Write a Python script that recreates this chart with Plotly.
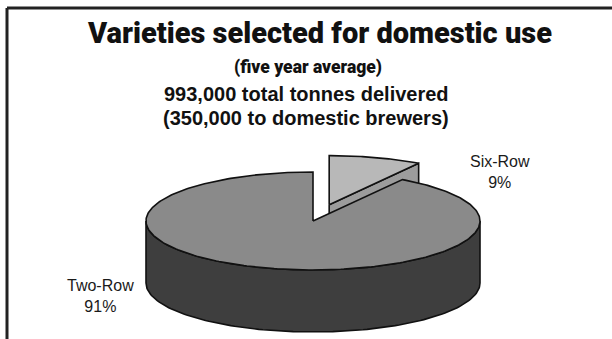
import numpy as np
import plotly.graph_objects as go

# ---- data ----
categories = ["Two-Row", "Six-Row"]
values = [91, 9]
title_lines = ["Varieties selected for domestic use", "(five year average)",
               "993,000 total tonnes delivered", "(350,000 to domestic brewers)"]

# ---- geometry (pixel-like axis units) ----
W, H = 612, 339
cx, cy, rx, ry, depth = 313, 221, 167, 49, 62
pull = 58

total = sum(values)
six_frac = values[1] / total
six_a0, six_a1 = 0.0, 2 * np.pi * six_frac   # clockwise from 12 o'clock
two_a0, two_a1 = six_a1, 2 * np.pi


def pt(t, dx=0.0, dy=0.0, dz=0.0):
    return cx + dx + rx * np.sin(t), cy + dy - ry * np.cos(t) + dz


def arc(a0, a1, n=120, dx=0.0, dy=0.0, dz=0.0):
    t = np.linspace(a0, a1, n)
    return cx + dx + rx * np.sin(t), cy + dy - ry * np.cos(t) + dz


fig = go.Figure()
line = dict(color="#111111", width=1.6)

# pulled Six-Row slice
mid = (six_a0 + six_a1) / 2
pdx = pull * np.sin(mid)
pdy = -pull * np.cos(mid) * ry / rx
ex, ey = pt(six_a1, pdx, pdy)
face_x = [cx + pdx, ex, ex, cx + pdx, cx + pdx]
face_y = [cy + pdy, ey, ey + depth, cy + pdy + depth, cy + pdy]
fig.add_trace(go.Scatter(x=face_x, y=face_y, fill="toself", fillcolor="#9c9c9c",
                         mode="lines", line=line, hoverinfo="skip"))
ax_, ay_ = arc(six_a0, six_a1, 60, pdx, pdy)
fig.add_trace(go.Scatter(x=np.r_[cx + pdx, ax_, cx + pdx], y=np.r_[cy + pdy, ay_, cy + pdy],
                         fill="toself", fillcolor="#b8b8b8", mode="lines", line=line,
                         hoverinfo="skip"))

# Two-Row front side
s0, s1 = max(two_a0, np.pi / 2), min(two_a1, 3 * np.pi / 2)
tx, ty = arc(s0, s1)
bx, by = arc(s1, s0, dz=depth)
fig.add_trace(go.Scatter(x=np.r_[tx, bx, tx[0]], y=np.r_[ty, by, ty[0]], fill="toself",
                         fillcolor="#3e3e3e", mode="lines", line=line, hoverinfo="skip"))
# Two-Row top
tx, ty = arc(two_a0, two_a1, 300)
fig.add_trace(go.Scatter(x=np.r_[cx, tx, cx], y=np.r_[cy, ty, cy], fill="toself",
                         fillcolor="#8a8a8a", mode="lines", line=line, hoverinfo="skip"))

# labels
lab_font = dict(family="Liberation Sans, Arial, sans-serif", size=16, color="#1a1a1a")
fig.add_annotation(x=100, y=296, text=f"{categories[0]}<br>{values[0]}%", showarrow=False,
                   font=lab_font, align="center")
fig.add_annotation(x=500, y=172, text=f"{categories[1]}<br>{values[1]}%", showarrow=False,
                   font=lab_font, align="center")

# titles
heavy = "Roboto, Liberation Sans, sans-serif"
fig.add_annotation(x=319, y=33, text=title_lines[0], showarrow=False,
                   font=dict(family=heavy, size=29, weight=900, color="#111111"))
fig.add_annotation(x=308, y=67, text=title_lines[1], showarrow=False,
                   font=dict(family=heavy, size=17.5, weight=900, color="#111111"))
fig.add_annotation(x=W / 2, y=94, text=f"<b>{title_lines[2]}</b>", showarrow=False,
                   font=dict(family="Liberation Sans, Arial, sans-serif", size=20, color="#111111"))
fig.add_annotation(x=W / 2, y=118, text=f"<b>{title_lines[3]}</b>", showarrow=False,
                   font=dict(family="Liberation Sans, Arial, sans-serif", size=20, color="#111111"))

# frame (top and left edges)
fig.add_shape(type="line", x0=7, y0=8, x1=W, y1=8, line=dict(color="#222222", width=3))
fig.add_shape(type="line", x0=7, y0=8, x1=7, y1=H, line=dict(color="#222222", width=3))

fig.update_layout(width=W, height=H, margin=dict(l=0, r=0, t=0, b=0),
                  paper_bgcolor="white", plot_bgcolor="white", showlegend=False,
                  xaxis=dict(range=[0, W], visible=False, fixedrange=True),
                  yaxis=dict(range=[H, 0], visible=False, fixedrange=True))
fig.write_html("out.html")
